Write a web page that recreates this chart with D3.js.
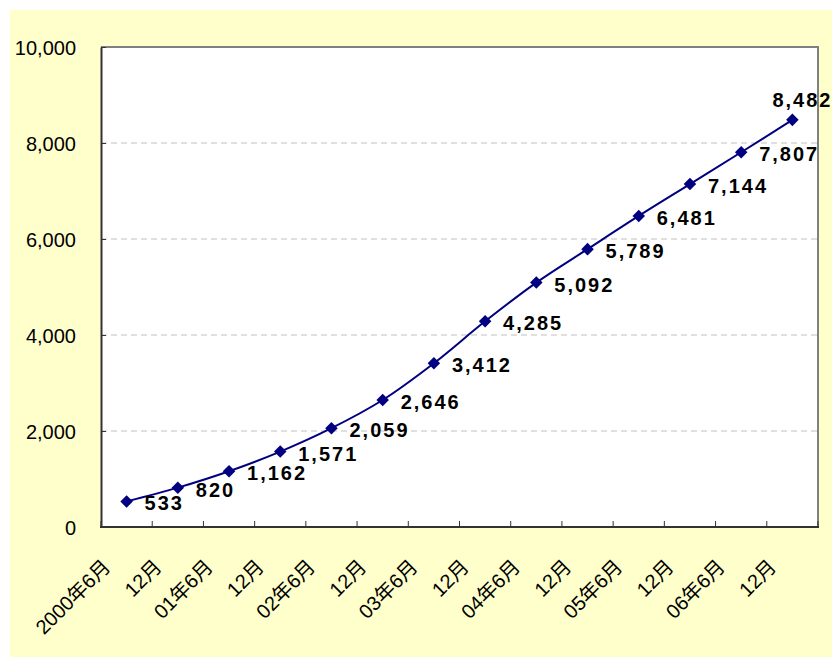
<!DOCTYPE html>
<html><head><meta charset="utf-8">
<script src="https://cdn.jsdelivr.net/npm/d3@7"></script>
<style>
html,body{margin:0;padding:0;background:#fff;}
svg{display:block;}
</style></head>
<body>
<svg id="c" width="832" height="658"></svg>
<script>
const categories = ["2000年6月","12月","01年6月","12月","02年6月","12月","03年6月","12月","04年6月","12月","05年6月","12月","06年6月","12月"];
const values = [533,820,1162,1571,2059,2646,3412,4285,5092,5789,6481,7144,7807,8482];
const yTicks = [0,2000,4000,6000,8000,10000];

const svg = d3.select("#c");
const W = 832, H = 658;
const m = {left:101, top:47, right:818, bottom:527};
const font = "'Liberation Sans', Arial, 'Noto Sans CJK JP', sans-serif";

svg.append("rect").attr("x",10).attr("y",10).attr("width",W-10).attr("height",647).attr("fill","#FFFFCC");
svg.append("rect").attr("x",m.left).attr("y",m.top).attr("width",m.right-m.left).attr("height",m.bottom-m.top).attr("fill","#fff");

const x = d3.scaleBand().domain(d3.range(categories.length)).range([m.left,m.right]).padding(0);
const y = d3.scaleLinear().domain([0,10000]).range([m.bottom,m.top]);

// gridlines
svg.append("g").selectAll("line").data(yTicks.filter(d=>d>0&&d<10000)).join("line")
  .attr("x1",m.left).attr("x2",m.right).attr("y1",d=>y(d)).attr("y2",d=>y(d))
  .attr("stroke","#c0c0c0").attr("stroke-width",1).attr("stroke-dasharray","6,4");

// top/right border
svg.append("path").attr("d",`M${m.left},${m.top}H${m.right}V${m.bottom}`)
  .attr("fill","none").attr("stroke","#808080").attr("stroke-width",2);

// y axis
const yAxis = d3.axisLeft(y).tickValues(yTicks).tickSizeInner(-5).tickSizeOuter(0).tickPadding(25)
  .tickFormat(d3.format(","));
const gy = svg.append("g").attr("transform",`translate(${m.left},0)`).call(yAxis);
gy.select(".domain").attr("stroke","#333").attr("stroke-width",2);
gy.selectAll(".tick line").attr("stroke","#333");
gy.selectAll(".tick text").attr("font-family",font).attr("font-size",20).attr("fill","#000").attr("dy","0.36em");

// x axis
const bw = x.bandwidth();
const boundaries = d3.range(categories.length+1).map(i=>m.left+i*bw);
const gx = svg.append("g");
gx.append("line").attr("x1",m.left-1).attr("x2",m.right+1).attr("y1",m.bottom).attr("y2",m.bottom)
  .attr("stroke","#333").attr("stroke-width",2);
gx.selectAll("line.t").data(boundaries).join("line").attr("class","t")
  .attr("x1",d=>d).attr("x2",d=>d).attr("y1",m.bottom).attr("y2",m.bottom-6)
  .attr("stroke","#333").attr("stroke-width",1);
gx.selectAll("text").data(categories).join("text")
  .attr("transform",(d,i)=>`translate(${x(i)+bw/2-15},${568}) rotate(-45)`)
  .attr("text-anchor","end").attr("font-family",font).attr("font-size",20).attr("fill","#000")
  .text(d=>d);

// line
const line = d3.line().x((d,i)=>x(i)+bw/2).y(d=>y(d)).curve(d3.curveCatmullRom.alpha(0.5));
svg.append("path").datum(values).attr("d",line).attr("fill","none").attr("stroke","#000080").attr("stroke-width",2);

// markers
svg.append("g").selectAll("path").data(values).join("path")
  .attr("d",d3.symbol().type(d3.symbolDiamond2).size(100))
  .attr("transform",(d,i)=>`translate(${x(i)+bw/2},${y(d)})`)
  .attr("fill","#000080");

// labels
svg.append("g").selectAll("text").data(values).join("text")
  .attr("x",(d,i)=>x(i)+bw/2 + (i===values.length-1 ? -20 : 18))
  .attr("y",(d,i)=>y(d) + (i===values.length-1 ? -13 : 9))
  .attr("font-family",font).attr("font-size",20).attr("font-weight","bold")
  .attr("letter-spacing","2px").attr("fill","#000")
  .text(d=>d3.format(",")(d));
</script>
</body></html>
